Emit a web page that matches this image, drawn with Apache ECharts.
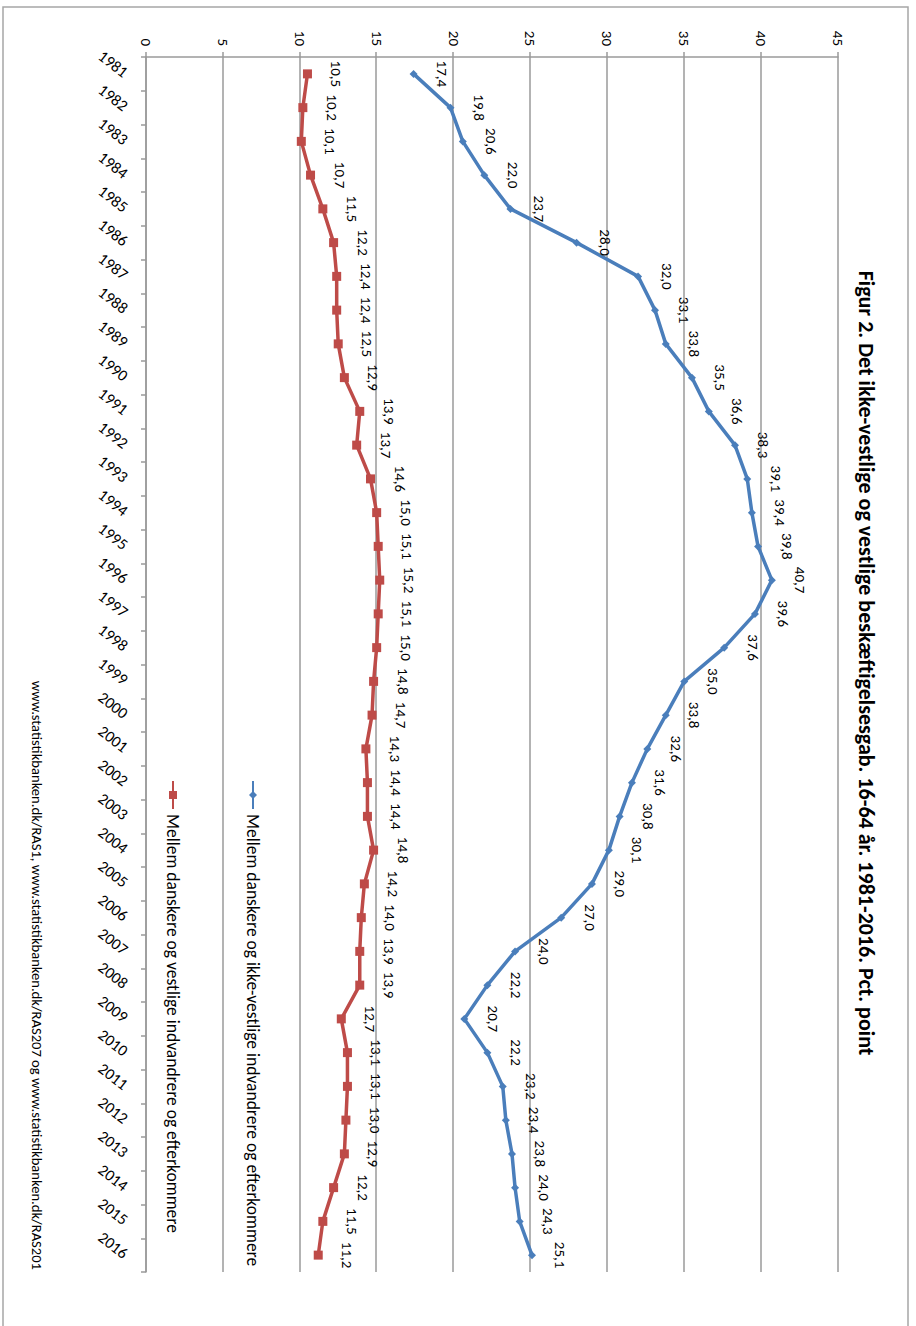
<!DOCTYPE html>
<html>
<head>
<meta charset="utf-8">
<script src="https://cdn.jsdelivr.net/npm/echarts@6/dist/echarts.min.js"></script>
<style>
  html, body { margin: 0; padding: 0; background: #ffffff; overflow: hidden; width: 916px; height: 1326px; }
  #wrap { position: absolute; left: 0; top: 0; width: 1326px; height: 916px;
          transform-origin: 0 0; transform: translate(916px, 0) rotate(90deg); }
  #chart { width: 1326px; height: 916px; }
</style>
</head>
<body>
<div id="wrap"><div id="chart"></div></div>
<script>
const years = ['1981','1982','1983','1984','1985','1986','1987','1988','1989','1990',
  '1991','1992','1993','1994','1995','1996','1997','1998','1999','2000',
  '2001','2002','2003','2004','2005','2006','2007','2008','2009','2010',
  '2011','2012','2013','2014','2015','2016'];
const nonWesternGap = [17.4, 19.8, 20.6, 22.0, 23.7, 28.0, 32.0, 33.1, 33.8, 35.5,
  36.6, 38.3, 39.1, 39.4, 39.8, 40.7, 39.6, 37.6, 35.0, 33.8,
  32.6, 31.6, 30.8, 30.1, 29.0, 27.0, 24.0, 22.2, 20.7, 22.2,
  23.2, 23.4, 23.8, 24.0, 24.3, 25.1];
const westernGap = [10.5, 10.2, 10.1, 10.7, 11.5, 12.2, 12.4, 12.4, 12.5, 12.9,
  13.9, 13.7, 14.6, 15.0, 15.1, 15.2, 15.1, 15.0, 14.8, 14.7,
  14.3, 14.4, 14.4, 14.8, 14.2, 14.0, 13.9, 13.9, 12.7, 13.1,
  13.1, 13.0, 12.9, 12.2, 11.5, 11.2];
const seriesNames = ['Mellem danskere og ikke-vestlige indvandrere og efterkommere',
  'Mellem danskere og vestlige indvandrere og efterkommere'];
const titleText = 'Figur 2. Det ikke-vestlige og vestlige beskæftigelsesgab. 16-64 år. 1981-2016. Pct. point';
const sourceText = 'www.statistikbanken.dk/RAS1, www.statistikbanken.dk/RAS207 og www.statistikbanken.dk/RAS201';

const FONT = 'Carlito, Lato, "Liberation Sans", sans-serif';
const fmt = v => v.toFixed(1).replace('.', ',');

const chart = echarts.init(document.getElementById('chart'), null, { renderer: 'svg' });
chart.setOption({
  backgroundColor: '#ffffff',
  animation: false,
  textStyle: { fontFamily: FONT, color: '#000000' },
  title: [
    { text: titleText, left: 'center', top: 34,
      textStyle: { fontFamily: FONT, fontSize: 22, fontWeight: 'bold', color: '#000000' } },
    { text: sourceText, right: 51, top: 867,
      textStyle: { fontFamily: FONT, fontSize: 14.6, fontWeight: 'normal', color: '#000000' } }
  ],
  graphic: [
    { type: 'rect', shape: { x: 7, y: 8, width: 1400, height: 905 },
      style: { fill: 'none', stroke: '#a6a6a6', lineWidth: 1.5 }, silent: true }
  ],
  legend: {
    orient: 'vertical', left: 775, top: 648,
    itemWidth: 28, itemHeight: 10, itemGap: 60,
    textStyle: { fontFamily: FONT, fontSize: 17.5, color: '#000000', lineHeight: 20 },
    data: seriesNames
  },
  grid: { left: 57, right: 54, top: 78, bottom: 146, containLabel: false },
  xAxis: {
    type: 'category', data: years, boundaryGap: true,
    axisLine: { show: true, lineStyle: { color: '#9a9a9a', width: 1.5 } },
    axisTick: { show: true, length: 5, lineStyle: { color: '#9a9a9a', width: 1.5 } },
    axisLabel: { rotate: 52, margin: 20, fontSize: 16, color: '#000000', fontFamily: FONT, interval: 0 },
    splitLine: { show: false }
  },
  yAxis: {
    type: 'value', min: 0, max: 45, interval: 5,
    axisLine: { show: true, lineStyle: { color: '#9a9a9a', width: 1.5 } },
    axisTick: { show: true, length: 5, lineStyle: { color: '#9a9a9a', width: 1.5 } },
    axisLabel: { margin: 11, fontSize: 15, color: '#000000', fontFamily: FONT },
    splitLine: { show: true, lineStyle: { color: '#9a9a9a', width: 1.5 } }
  },
  series: [
    { name: seriesNames[0], type: 'line', data: nonWesternGap,
      symbol: 'diamond', symbolSize: 8,
      lineStyle: { color: '#4a7ebb', width: 3.5 },
      itemStyle: { color: '#4a7ebb' },
      label: { show: true, position: 'top', distance: 17, fontSize: 15, color: '#000000',
               fontFamily: FONT, formatter: p => fmt(p.value) } },
    { name: seriesNames[1], type: 'line', data: westernGap,
      symbol: 'rect', symbolSize: 9,
      lineStyle: { color: '#be4b48', width: 3.5 },
      itemStyle: { color: '#be4b48' },
      label: { show: true, position: 'top', distance: 17, fontSize: 15, color: '#000000',
               fontFamily: FONT, formatter: p => fmt(p.value) } }
  ]
});
</script>
</body>
</html>
